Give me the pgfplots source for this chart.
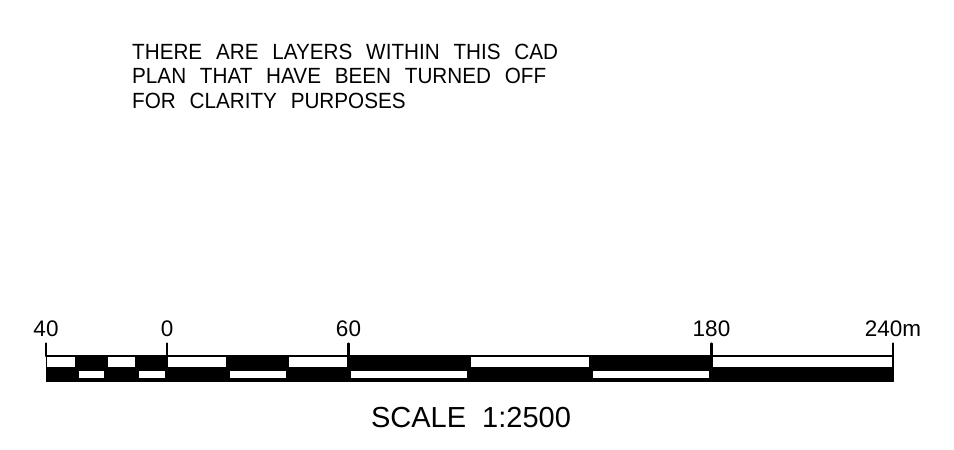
\documentclass[border=0pt]{standalone}
\usepackage{pgfplots}
\pgfplotsset{compat=1.18}
\usepackage{fontspec}
\setmainfont{Liberation Sans}
\newfontfamily\cadfont[WordSpace=2.4]{Liberation Sans}

% one white cell of the scale bar (already inset inside its black frame): x0, x1, y0, y1
\newcommand\cell[4]{\addplot[fill=white, draw=none] coordinates {(#1,#3) (#2,#3) (#2,#4) (#1,#4)} -- cycle;}
\newcommand\tick[1]{\addplot[black, line width=2.2bp, line cap=round] coordinates {(#1,343.5) (#1,356)};}

\begin{document}
\begin{tikzpicture}
    \useasboundingbox (0,0) rectangle (954bp,450bp);
    \begin{axis}[
            at={(0,0)}, anchor=south west,
            scale only axis,
            width=954bp, height=450bp,
            xmin=-55.21, xmax=260.17,
            ymin=0, ymax=450,
            y dir=reverse,
            hide axis,
            clip=false,
        ]
        % bar body
        \addplot[fill=black, draw=black, line width=1bp, line join=round] coordinates {
            (-40,355.5) (240,355.5) (240,381.5) (-40,381.5)} -- cycle;

        % upper row, white cells (-40..-30, -20..-10, 0..20, 40..60, 100..140, 180..240)
        \cell{-39.55}{-30.45}{356.8}{366.8}
        \cell{-19.55}{-10.45}{356.8}{366.8}
        \cell{0.45}{19.55}{356.8}{366.8}
        \cell{40.45}{59.55}{356.8}{366.8}
        \cell{100.45}{139.55}{356.8}{366.8}
        \cell{180.45}{239.55}{356.8}{366.8}

        % lower row, white cells (-30..-20, -10..0, 20..40, 60..100, 140..180)
        \cell{-29.1}{-20.8}{371}{378}
        \cell{-9.1}{-0.8}{371}{378}
        \cell{20.9}{39.2}{371}{378}
        \cell{60.9}{99.2}{371}{378}
        \cell{140.9}{179.2}{371}{378}

        % major ticks
        \tick{-40}
        \tick{0}
        \tick{60}
        \tick{180}
        \tick{240}

        \begin{scope}[every node/.style={font=\fontsize{22.5bp}{27bp}\selectfont, anchor=base, inner sep=0pt}]
            \node at (axis cs:-40,336) {40};
            \node at (axis cs:0,336) {0};
            \node at (axis cs:60,336) {60};
            \node at (axis cs:180,336) {180};
            \node at (axis cs:240,336) {240m};
        \end{scope}

        \node[anchor=base, inner sep=0pt, font=\fontsize{29bp}{33bp}\selectfont]
            at (axis cs:100.5,427) {SCALE\ \ 1:2500};

        \begin{scope}[every node/.style={anchor=base west, inner sep=0pt, xscale=0.94,
                font=\cadfont\fontsize{22bp}{26bp}\selectfont}]
            \node at (axis cs:-11.57,59) {THERE ARE LAYERS WITHIN THIS CAD};
            \node at (axis cs:-11.57,83.6) {PLAN THAT HAVE BEEN TURNED OFF};
            \node at (axis cs:-11.57,108.2) {FOR CLARITY PURPOSES};
        \end{scope}
    \end{axis}
\end{tikzpicture}
\end{document}
